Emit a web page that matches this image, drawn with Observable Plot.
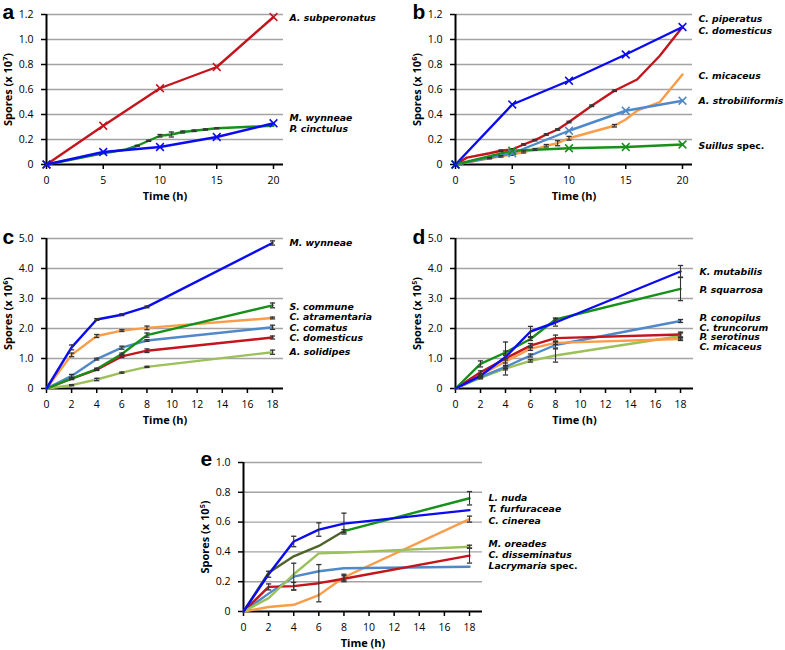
<!DOCTYPE html>
<html><head><meta charset="utf-8">
<script src="https://cdn.jsdelivr.net/npm/d3@7"></script>
<script src="https://cdn.jsdelivr.net/npm/@observablehq/plot@0.6"></script>
<style>
body{margin:0;background:#fff;}
#chart{position:relative;width:785px;height:650px;overflow:hidden;background:#fff;}
#chart svg{position:absolute;overflow:visible;}
</style></head><body><div id="chart"></div>
<script>
// ---------- Panel a (x 10^7) ----------
const aTimes = [0, 5, 10, 15, 20];
const aSubperonatus = [0, 0.31, 0.61, 0.78, 1.18];
const aCinctulus = [0, 0.10, 0.14, 0.22, 0.33];
const aWynneaeTimes = [0, 5, 7, 8, 9, 10, 11, 12, 13, 14, 15, 20];
const aWynneae = [0, 0.09, 0.12, 0.15, 0.19, 0.23, 0.24, 0.26, 0.27, 0.28, 0.29, 0.31];
const aWynneaeErr = [0, 0, 0, 0.004, 0.005, 0.01, 0.02, 0.008, 0.006, 0.005, 0.004, 0];
const aLabels = ["A. subperonatus", "M. wynneae", "P. cinctulus"];
const aLabelAt = [1.175, 0.375, 0.28];

// ---------- Panel b (x 10^6) ----------
const bTimes = [0, 5, 10, 15, 20];
const bPiperatus = [0, 0.48, 0.67, 0.88, 1.10];
const bStrobiliformis = [0, 0.09, 0.27, 0.43, 0.51];
const bSuillus = [0, 0.11, 0.13, 0.14, 0.16];
const bDomesticusTimes = [0, 1, 3, 4, 5, 6, 7, 8, 9, 10, 12, 14, 16, 18, 20];
const bDomesticus = [0, 0.055, 0.09, 0.11, 0.12, 0.16, 0.195, 0.24, 0.28, 0.34, 0.47, 0.59, 0.68, 0.87, 1.10];
const bDomesticusErr = [0, 0, 0, 0.006, 0.006, 0.006, 0.006, 0.006, 0.006, 0.006, 0.006, 0.006, 0, 0, 0];
const bMicaceusTimes = [0, 3, 4, 5, 6, 7, 8, 9, 10, 12, 14, 15, 16, 18, 20];
const bMicaceus = [0, 0.05, 0.065, 0.08, 0.10, 0.12, 0.15, 0.17, 0.21, 0.26, 0.31, 0.36, 0.43, 0.50, 0.72];
const bMicaceusErr = [0, 0.005, 0.006, 0.006, 0.008, 0.008, 0.01, 0.02, 0.015, 0, 0.01, 0, 0, 0, 0];
const bLabels = ["C. piperatus", "C. domesticus", "C. micaceus", "A. strobiliformis", "Suillus spec."];
const bLabelAt = [1.16, 1.065, 0.71, 0.505, 0.15];

// ---------- Panel c (x 10^6) ----------
const cTimes = [0, 2, 4, 6, 8, 18];
const cWynneae = [0, 1.37, 2.30, 2.46, 2.72, 4.85];
const cCommune = [0, 0.33, 0.65, 1.15, 1.78, 2.77];
const cAtramentaria = [0, 1.12, 1.75, 1.93, 2.02, 2.35];
const cComatus = [0, 0.42, 0.98, 1.36, 1.60, 2.04];
const cDomesticus = [0, 0.33, 0.63, 1.07, 1.26, 1.70];
const cSolidipes = [0, 0.11, 0.30, 0.53, 0.72, 1.21];
const cWynneaeErr = [0, 0.08, 0.03, 0.03, 0.03, 0.07];
const cCommuneErr = [0, 0.03, 0.03, 0.03, 0.07, 0.08];
const cAtramentariaErr = [0, 0.06, 0.05, 0.03, 0.06, 0.03];
const cComatusErr = [0, 0.05, 0.03, 0.05, 0.03, 0.07];
const cDomesticusErr = [0, 0.03, 0.03, 0.04, 0.06, 0.05];
const cSolidipesErr = [0, 0.02, 0.04, 0.02, 0.02, 0.07];
const cLabels = ["M. wynneae", "S. commune", "C. atramentaria", "C. comatus", "C. domesticus", "A. solidipes"];
const cLabelAt = [4.84, 2.73, 2.37, 2.01, 1.67, 1.2];

// ---------- Panel d (x 10^5) ----------
const dTimes = [0, 2, 4, 6, 8, 18];
const dMutabilis = [0, 0.42, 1.05, 1.90, 2.20, 3.90];
const dSquarrosa = [0, 0.82, 1.20, 1.65, 2.30, 3.32];
const dConopilus = [0, 0.38, 0.72, 1.10, 1.45, 2.25];
const dTruncorum = [0, 0.54, 1.00, 1.43, 1.68, 1.80];
const dSerotinus = [0, 0.45, 0.90, 1.33, 1.52, 1.65];
const dMicaceus = [0, 0.35, 0.67, 0.92, 1.10, 1.75];
const dMutabilisErr = [0, 0.03, 0.05, 0.17, 0.12, 0.20];
const dSquarrosaErr = [0, 0.10, 0.05, 0.05, 0.05, 0.39];
const dConopilusErr = [0, 0.03, 0.05, 0.05, 0.10, 0.05];
const dTruncorumErr = [0, 0.05, 0.55, 0.07, 0.10, 0.08];
const dSerotinusErr = [0, 0.04, 0.05, 0.06, 0.05, 0.05];
const dMicaceusErr = [0, 0.03, 0.05, 0.04, 0.22, 0.10];
const dLabels = ["K. mutabilis", "P. squarrosa", "P. conopilus", "C. truncorum", "P. serotinus", "C. micaceus"];
const dLabelAt = [3.88, 3.27, 2.36, 2.03, 1.70, 1.37];

// ---------- Panel e (x 10^5) ----------
const eTimes = [0, 2, 4, 6, 8, 18];
const eNuda = [0, 0.26, 0.37, 0.44, 0.54, 0.76];
const eFurfuraceae = [0, 0.25, 0.47, 0.55, 0.59, 0.68];
const eCinerea = [0, 0.03, 0.045, 0.11, 0.23, 0.62];
const eOreades = [0, 0.09, 0.25, 0.39, 0.395, 0.435];
const eDisseminatus = [0, 0.165, 0.17, 0.19, 0.22, 0.375];
const eLacrymaria = [0, 0.12, 0.234, 0.27, 0.29, 0.30];
const eNudaErr = [0, 0.02, 0.01, 0.018, 0.01, 0.045];
const eFurfuraceaeErr = [0, 0.02, 0.035, 0.045, 0.07, 0];
const eCinereaErr = [0, 0, 0, 0, 0.02, 0.02];
const eOreadesErr = [0, 0, 0, 0, 0, 0.01];
const eDisseminatusErr = [0, 0.02, 0.025, 0.125, 0.02, 0.05];
const eLacrymariaErr = [0, 0, 0.09, 0, 0, 0];
const eLabels = ["L. nuda", "T. furfuraceae", "C. cinerea", "M. oreades", "C. disseminatus", "Lacrymaria spec."];
const eLabelAt = [0.763, 0.687, 0.61, 0.454, 0.38, 0.304];

// ---------- axis ticks ----------
const ticksA = [0, 0.2, 0.4, 0.6, 0.8, 1.0, 1.2];
const ticksC = [0, 1, 2, 3, 4, 5];
const ticksE = [0, 0.2, 0.4, 0.6, 0.8, 1.0];
const xTicks20 = [0, 5, 10, 15, 20];
const xTicks18 = [0, 2, 4, 6, 8, 10, 12, 14, 16, 18];

// ---------- colours ----------
const BLUE = "#0b0bf2", RED = "#c4141c", GREEN = "#17901a", STEEL = "#4f89c9",
      ORANGE = "#fa9c48", LGREEN = "#9cc05a", OLIVE = "#4f6228";
const FONT = "'Open Sans', Lato, sans-serif";
const LABEL_FONT = "'DejaVu Sans', 'Open Sans', sans-serif";

const capSymbol = {draw(ctx, size) { const r = Math.sqrt(size / Math.PI); ctx.moveTo(-r, 0); ctx.lineTo(r, 0); }};

function rowsOf(s) {
  return s.times.map((t, i) => ({t, v: s.values[i], e: s.err ? s.err[i] : 0}))
    .filter(d => s.range ? (d.t >= s.range[0] && d.t <= s.range[1]) : true);
}

function panel(cfg) {
  const {left, top, width, height, x0, x1, gridEnd, y0, y1, xMaxTick, xTicks, yMax, yTicks, yLabel, letter, series, labels, labelAt, letterDx, letterDy} = cfg;
  const marks = [
    Plot.gridY(yTicks.filter(d => d > 0), {stroke: "#a3a3a3", strokeOpacity: 1, strokeWidth: 1.4}),
    Plot.ruleY([0], {stroke: "#000", strokeWidth: 2}),
    Plot.ruleX([0], {stroke: "#000", strokeWidth: 2}),
    Plot.axisY(yTicks, {tickSize: 5, tickPadding: 8, strokeWidth: 1.5, fontSize: 10.5, label: null,
      tickFormat: d => d === 0 ? "0" : d.toFixed(1)}),
    Plot.axisX(xTicks, {tickSize: 5, tickPadding: 7, strokeWidth: 1.5, fontSize: 10.5, label: null,
      tickFormat: d => String(d)})
  ];
  for (const s of series) {
    marks.push(Plot.line(rowsOf(s), {x: "t", y: "v", stroke: s.color, strokeWidth: 2.4}));
  }
  for (const s of series) {
    const eb = rowsOf(s).filter(d => d.e > 0);
    if (eb.length) {
      marks.push(Plot.ruleX(eb, {x: "t", y1: d => d.v - d.e, y2: d => d.v + d.e, stroke: "#333", strokeWidth: 1.1}));
      marks.push(Plot.dot(eb, {x: "t", y: d => d.v - d.e, symbol: capSymbol, r: 2.6, fill: "none", stroke: "#333", strokeWidth: 1.3}));
      marks.push(Plot.dot(eb, {x: "t", y: d => d.v + d.e, symbol: capSymbol, r: 2.6, fill: "none", stroke: "#333", strokeWidth: 1.3}));
    }
  }
  for (const s of series) {
    if (s.marker) marks.push(Plot.dot(rowsOf(s), {x: "t", y: "v", symbol: "times", r: 3.6, stroke: s.color, strokeWidth: 1.5}));
  }
  marks.push(Plot.text(labels, {y: (d, i) => labelAt[i], text: d => d, frameAnchor: "right", dx: 6,
    textAnchor: "start", lineAnchor: "middle", fontWeight: "bold", fontStyle: "italic", fontSize: 9.3, fontFamily: LABEL_FONT}));
  marks.push(Plot.text([yLabel], {text: d => d, frameAnchor: "left", dx: -38, rotate: -90,
    textAnchor: "middle", lineAnchor: "middle", fontWeight: "bold", fontSize: 11}));
  marks.push(Plot.text(["Time (h)"], {text: d => d, frameAnchor: "bottom", dy: 32,
    textAnchor: "middle", lineAnchor: "middle", fontWeight: "bold", fontSize: 11}));
  marks.push(Plot.text([letter], {text: d => d, frameAnchor: "top-left", dx: letterDx, dy: letterDy,
    textAnchor: "start", lineAnchor: "bottom", fontWeight: "bold", fontSize: 21, fontFamily: "'Liberation Sans', Arial, sans-serif"}));

  const svg = Plot.plot({
    width, height,
    marginLeft: x0 - left,
    marginRight: width - (gridEnd - left),
    marginTop: y1 - top,
    marginBottom: height - (y0 - top),
    x: {domain: [0, xMaxTick * (gridEnd - x0) / (x1 - x0)], label: null},
    y: {domain: [0, yMax], label: null},
    style: {fontFamily: FONT, fontSize: "10.5px", background: "transparent", overflow: "visible", color: "#000"},
    marks
  });
  svg.style.left = left + "px";
  svg.style.top = top + "px";
  // "spec." is set upright after the italic genus name
  d3.select(svg).selectAll("text").each(function () {
    const t = this.textContent;
    if (t.endsWith(" spec.") && this.childElementCount === 0) {
      const genus = t.slice(0, -6);
      this.textContent = "";
      d3.select(this).append("tspan").attr("font-style", "italic").text(genus);
      d3.select(this).append("tspan").attr("font-style", "normal").style("white-space", "pre").text(" spec.");
    }
  });
  return svg;
}

const chart = document.getElementById("chart");

chart.appendChild(panel({
  left: 0, top: 0, width: 390, height: 205, x0: 46, x1: 273, gridEnd: 283, y0: 164, y1: 14,
  xMaxTick: 20, xTicks: xTicks20, yMax: 1.2, yTicks: ticksA, yLabel: "Spores (x 10⁷)", letter: "a",
  letterDx: -44, letterDy: 4, labels: aLabels, labelAt: aLabelAt,
  series: [
    {times: aWynneaeTimes, values: aWynneae, err: aWynneaeErr, color: GREEN},
    {times: aTimes, values: aSubperonatus, color: RED, marker: true},
    {times: aTimes, values: aCinctulus, color: BLUE, marker: true}
  ]
}));

chart.appendChild(panel({
  left: 390, top: 0, width: 395, height: 205, x0: 455, x1: 682, gridEnd: 692, y0: 164, y1: 14,
  xMaxTick: 20, xTicks: xTicks20, yMax: 1.2, yTicks: ticksA, yLabel: "Spores (x 10⁶)", letter: "b",
  letterDx: -43, letterDy: 4, labels: bLabels, labelAt: bLabelAt,
  series: [
    {times: bMicaceusTimes, values: bMicaceus, err: bMicaceusErr, color: ORANGE},
    {times: bTimes, values: bStrobiliformis, color: STEEL, marker: true},
    {times: bDomesticusTimes, values: bDomesticus, err: bDomesticusErr, color: RED},
    {times: bTimes, values: bSuillus, color: GREEN, marker: true},
    {times: bTimes, values: bPiperatus, color: BLUE, marker: true}
  ]
}));

chart.appendChild(panel({
  left: 0, top: 215, width: 390, height: 215, x0: 46, x1: 272, gridEnd: 283, y0: 388, y1: 238,
  xMaxTick: 18, xTicks: xTicks18, yMax: 5, yTicks: ticksC, yLabel: "Spores (x 10⁶)", letter: "c",
  letterDx: -44, letterDy: 5, labels: cLabels, labelAt: cLabelAt,
  series: [
    {times: cTimes, values: cSolidipes, err: cSolidipesErr, color: LGREEN},
    {times: cTimes, values: cDomesticus, err: cDomesticusErr, color: RED},
    {times: cTimes, values: cComatus, err: cComatusErr, color: STEEL},
    {times: cTimes, values: cAtramentaria, err: cAtramentariaErr, color: ORANGE},
    {times: cTimes, values: cCommune, err: cCommuneErr, color: GREEN},
    {times: cTimes, values: cWynneae, err: cWynneaeErr, color: BLUE}
  ]
}));

chart.appendChild(panel({
  left: 390, top: 215, width: 395, height: 215, x0: 455, x1: 680, gridEnd: 693, y0: 388, y1: 238,
  xMaxTick: 18, xTicks: xTicks18, yMax: 5, yTicks: ticksC, yLabel: "Spores (x 10⁵)", letter: "d",
  letterDx: -43, letterDy: 5, labels: dLabels, labelAt: dLabelAt,
  series: [
    {times: dTimes, values: dMicaceus, err: dMicaceusErr, color: LGREEN},
    {times: dTimes, values: dConopilus, err: dConopilusErr, color: STEEL},
    {times: dTimes, values: dSerotinus, err: dSerotinusErr, color: ORANGE},
    {times: dTimes, values: dTruncorum, err: dTruncorumErr, color: RED},
    {times: dTimes, values: dSquarrosa, err: dSquarrosaErr, color: GREEN},
    {times: dTimes, values: dMutabilis, err: dMutabilisErr, color: BLUE}
  ]
}));

chart.appendChild(panel({
  left: 195, top: 440, width: 400, height: 210, x0: 243, x1: 469, gridEnd: 482, y0: 611, y1: 462,
  xMaxTick: 18, xTicks: xTicks18, yMax: 1.0, yTicks: ticksE, yLabel: "Spores (x 10⁵)", letter: "e",
  letterDx: -43, letterDy: 3, labels: eLabels, labelAt: eLabelAt,
  series: [
    {times: eTimes, values: eCinerea, err: eCinereaErr, color: ORANGE},
    {times: eTimes, values: eLacrymaria, err: eLacrymariaErr, color: STEEL},
    {times: eTimes, values: eDisseminatus, err: eDisseminatusErr, color: RED},
    {times: eTimes, values: eOreades, err: eOreadesErr, color: LGREEN},
    {times: eTimes, values: eNuda, err: eNudaErr, color: GREEN, range: [8, 18]},
    {times: eTimes, values: eNuda, color: OLIVE, range: [0, 8]},
    {times: eTimes, values: eFurfuraceae, err: eFurfuraceaeErr, color: BLUE}
  ]
}));
</script></body></html>
